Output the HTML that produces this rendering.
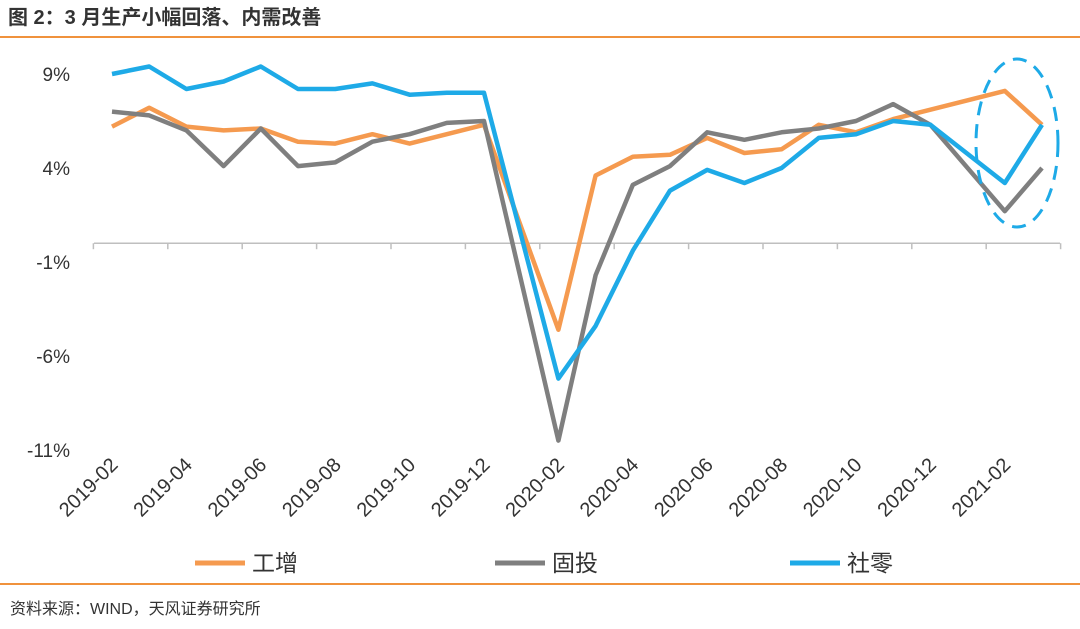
<!DOCTYPE html>
<html><head><meta charset="utf-8"><style>
body{margin:0;background:#fff;width:1080px;height:624px;overflow:hidden;font-family:"Liberation Sans","Noto Sans CJK SC",sans-serif;}
svg text{font-family:"Liberation Sans","Noto Sans CJK SC",sans-serif;}
</style></head><body>
<svg id="chart" width="1080" height="624" xmlns="http://www.w3.org/2000/svg">
<text x="8" y="24" font-size="20" font-weight="bold" fill="#333">图 2：3 月生产小幅回落、内需改善</text>
<line x1="0" y1="37" x2="1080" y2="37" stroke="#f0923c" stroke-width="2"/>
<line x1="0" y1="584" x2="1080" y2="584" stroke="#f0923c" stroke-width="2"/>
<text x="10" y="614" font-size="16" fill="#333">资料来源：WIND，天风证券研究所</text>
<g id="plot"></g>
<ellipse cx="1017" cy="143" rx="41" ry="84" fill="none" stroke="#1eaae7" stroke-width="3" stroke-dasharray="14,9"/>
<g>
<line x1="195" y1="563" x2="245" y2="563" stroke="#f59a4f" stroke-width="5"/>
<text x="252" y="571" font-size="23" fill="#333">工增</text>
<line x1="495" y1="563" x2="545" y2="563" stroke="#7f7f7f" stroke-width="5"/>
<text x="552" y="571" font-size="23" fill="#333">固投</text>
<line x1="790" y1="563" x2="840" y2="563" stroke="#1eaae7" stroke-width="5"/>
<text x="847" y="571" font-size="23" fill="#333">社零</text>
</g>
</svg>
<script>
const months=["2019-02","2019-03","2019-04","2019-05","2019-06","2019-07","2019-08","2019-09","2019-10","2019-11","2019-12","2020-01","2020-02","2020-03","2020-04","2020-05","2020-06","2020-07","2020-08","2020-09","2020-10","2020-11","2020-12","2021-01","2021-02","2021-03"];
const industry=[6.2,7.2,6.2,6.0,6.1,5.4,5.3,5.8,5.3,5.8,6.3,null,-4.6,3.6,4.6,4.7,5.6,4.8,5.0,6.3,5.9,6.6,7.1,null,8.1,6.3];
const investment=[7.0,6.8,6.0,4.1,6.1,4.1,4.3,5.4,5.8,6.4,6.5,null,-10.5,-1.7,3.1,4.1,5.9,5.5,5.9,6.1,6.5,7.4,6.3,null,1.7,4.0];
const retail=[9.0,9.4,8.2,8.6,9.4,8.2,8.2,8.5,7.9,8.0,8.0,null,-7.2,-4.4,-0.4,2.8,3.9,3.2,4.0,5.6,5.8,6.5,6.3,null,3.2,6.3];
const yTicks=[9,4,-1,-6,-11];
const xLabels=["2019-02","2019-04","2019-06","2019-08","2019-10","2019-12","2020-02","2020-04","2020-06","2020-08","2020-10","2020-12","2021-02"];
const NS="http://www.w3.org/2000/svg";
const g=document.getElementById('plot');
const x=i=>112+i*37.2;
const y=v=>243.2-v*18.8;
function mk(t,a){const e=document.createElementNS(NS,t);for(const k in a)e.setAttribute(k,a[k]);g.appendChild(e);return e;}
yTicks.forEach(v=>{const t=mk('text',{x:70,y:y(v)+7,'text-anchor':'end','font-size':'19',fill:'#333'});t.textContent=v+'%';

});
const ax=mk('line',{x1:94,y1:y(0),x2:1060,y2:y(0),stroke:'#bfbfbf','stroke-width':1.5});


for(let i=0;i<=months.length;i+=2){const tk=mk('line',{x1:x(i)-18.6,y1:y(0),x2:x(i)-18.6,y2:y(0)+6,stroke:'#bfbfbf','stroke-width':1.5});

}
xLabels.forEach(l=>{const i=months.indexOf(l);const px=x(i)+7,py=466;
const t=mk('text',{x:px,y:py,'text-anchor':'end','font-size':'20',fill:'#333',transform:`rotate(-45 ${px} ${py})`});t.textContent=l;

});
function series(arr,color,name){let d='';arr.forEach((v,i)=>{if(v===null)return;d+=(d?'L':'M')+x(i).toFixed(1)+','+y(v).toFixed(1);});
const p=mk('path',{d:d,fill:'none',stroke:color,'stroke-width':4.5,'stroke-linejoin':'round'});

}
series(industry,'#f59a4f','line-industry');
series(investment,'#7f7f7f','line-investment');
series(retail,'#1eaae7','line-retail');
</script>
</body></html>
